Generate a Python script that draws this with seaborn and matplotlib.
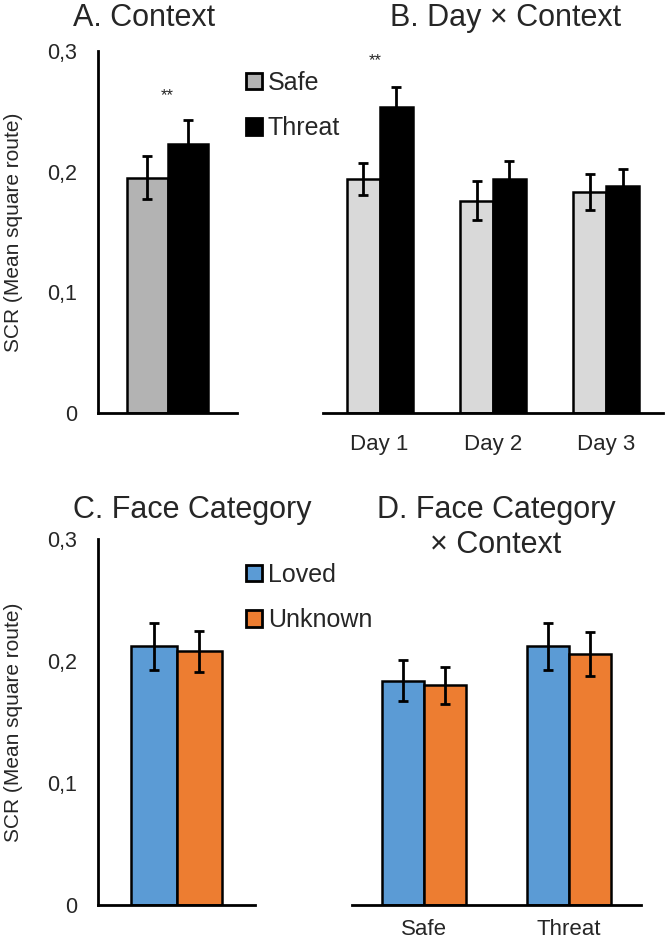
import numpy as np
import pandas as pd
import matplotlib
matplotlib.use("Agg")
import matplotlib.pyplot as plt
import matplotlib.patches as mpatches
from matplotlib.ticker import FuncFormatter
import seaborn as sns

# values
context = ["Safe", "Threat"]
a_mean = [0.195, 0.223]
a_err = [0.018, 0.020]

days = ["Day 1", "Day 2", "Day 3"]
b_safe = [0.194, 0.176, 0.183]
b_safe_err = [0.013, 0.016, 0.015]
b_threat = [0.254, 0.194, 0.188]
b_threat_err = [0.016, 0.015, 0.014]

faces = ["Loved", "Unknown"]
c_mean = [0.212, 0.208]
c_err = [0.019, 0.017]

d_loved = [0.184, 0.212]
d_loved_err = [0.017, 0.019]
d_unknown = [0.180, 0.206]
d_unknown_err = [0.015, 0.018]

sns.set_style("white")
plt.rcParams['font.family'] = ['Liberation Sans', 'DejaVu Sans']
TXT = '#262626'

W, H = 668, 943
fig = plt.figure(figsize=(W / 100, H / 100), dpi=100)


def px_axes(x0, x1, ytop, ybot):
    return fig.add_axes([x0 / W, 1 - ybot / H, (x1 - x0) / W, (ybot - ytop) / H])


def draw(ax, df, x, hue, order, hue_order, palette, errs, boundaries, pad=14):
    sns.barplot(data=df, x=x, y='val', hue=hue, order=order, hue_order=hue_order,
                palette=palette, saturation=1, errorbar=None, width=0.58, gap=0,
                edgecolor='black', linewidth=1.8, legend=False, ax=ax)
    for cont, e in zip(ax.containers, errs):
        xs = [p.get_x() + p.get_width() / 2 for p in cont]
        ys = [p.get_height() for p in cont]
        ax.errorbar(xs, ys, yerr=e, fmt='none', ecolor='black', elinewidth=2,
                    capsize=3.5, capthick=2, zorder=5)
    ax.set_ylim(0, 0.3)
    ax.set_xlim(-0.5, len(order) - 0.5)
    ax.set_xlabel('')
    ax.set_ylabel('')
    sns.despine(ax=ax)
    for s in ax.spines.values():
        s.set_linewidth(2)
        s.set_color('black')
    ax.set_xticks(boundaries)
    ax.set_xticklabels([])
    ax.set_xticks(range(len(order)), minor=True)
    ax.set_xticklabels(order, minor=True)
    ax.tick_params(axis='x', which='major', length=6, width=2, color='black', direction='out')
    ax.tick_params(axis='x', which='minor', length=0, pad=pad, labelsize=16, labelcolor=TXT)


def yaxis(ax):
    ax.set_yticks([0, 0.1, 0.2, 0.3])
    ax.yaxis.set_major_formatter(FuncFormatter(lambda v, p: f"{v:.1f}".replace('.', ',') if v else "0"))
    ax.tick_params(axis='y', length=5, width=2, color='black', direction='out',
                   labelsize=15.5, labelcolor=TXT, pad=10)
    ax.set_ylabel('SCR (Mean square route)', fontsize=15, color=TXT, va='center')
    ax.yaxis.set_label_coords(-84 / (ax.get_position().width * W), 0.5)


def noyaxis(ax):
    ax.spines['left'].set_visible(False)
    ax.set_yticks([])


# A. Context
axA = px_axes(98, 237, 51, 413)
dfA = pd.DataFrame({'cat': [''] * 2, 'ctx': context, 'val': a_mean})
draw(axA, dfA, 'cat', 'ctx', [''], context, {'Safe': '#b3b3b3', 'Threat': 'black'},
     [[a_err[0]], [a_err[1]]], [0.5])
yaxis(axA)
axA.text(0, 0.263, '**', ha='center', va='center', fontsize=12, color=TXT)

# B. Day x Context
axB = px_axes(323, 663, 51, 413)
dfB = pd.DataFrame({'day': days * 2, 'ctx': ['Safe'] * 3 + ['Threat'] * 3, 'val': b_safe + b_threat})
draw(axB, dfB, 'day', 'ctx', days, context, {'Safe': '#d9d9d9', 'Threat': 'black'},
     [b_safe_err, b_threat_err], [-0.5, 0.5, 1.5, 2.5], pad=15)
noyaxis(axB)
axB.text(-0.04, 0.292, '**', ha='center', va='center', fontsize=12, color=TXT)

# C. Face Category
axC = px_axes(98, 255, 539, 905)
dfC = pd.DataFrame({'cat': [''] * 2, 'face': faces, 'val': c_mean})
draw(axC, dfC, 'cat', 'face', [''], faces, {'Loved': '#5b9bd5', 'Unknown': '#ed7d31'},
     [[c_err[0]], [c_err[1]]], [0.5])
yaxis(axC)

# D. Face Category x Context
axD = px_axes(352, 641, 539, 905)
dfD = pd.DataFrame({'ctx': context * 2, 'face': ['Loved'] * 2 + ['Unknown'] * 2,
                    'val': d_loved + d_unknown})
draw(axD, dfD, 'ctx', 'face', context, faces, {'Loved': '#5b9bd5', 'Unknown': '#ed7d31'},
     [d_loved_err, d_unknown_err], [-0.5, 0.5, 1.5], pad=10)
noyaxis(axD)

# titles
tkw = dict(ha='center', va='center', fontsize=22, color=TXT)
fig.text(144 / W, 1 - 18 / H, 'A. Context', **tkw)
fig.text(506 / W, 1 - 18 / H, 'B. Day × Context', **tkw)
fig.text(192 / W, 1 - 510 / H, 'C. Face Category', **tkw)
fig.text(496 / W, 1 - 510 / H, 'D. Face Category', **tkw)
fig.text(496 / W, 1 - 545 / H, '× Context', **tkw)

# legends
def legend(labels, colors, y):
    handles = [mpatches.Patch(facecolor=c, edgecolor='black', linewidth=2) for c in colors]
    fig.legend(handles, labels, loc='upper left', bbox_to_anchor=(246 / W, 1 - y / H),
               frameon=False, handlelength=0.62, handleheight=0.62, handletextpad=0.25,
               labelspacing=0.85, fontsize=18, labelcolor=TXT, borderaxespad=0, borderpad=0)

legend(context, ['#b3b3b3', 'black'], 71)
legend(faces, ['#5b9bd5', '#ed7d31'], 563)

fig.savefig('out.png', dpi=100, facecolor='white')
